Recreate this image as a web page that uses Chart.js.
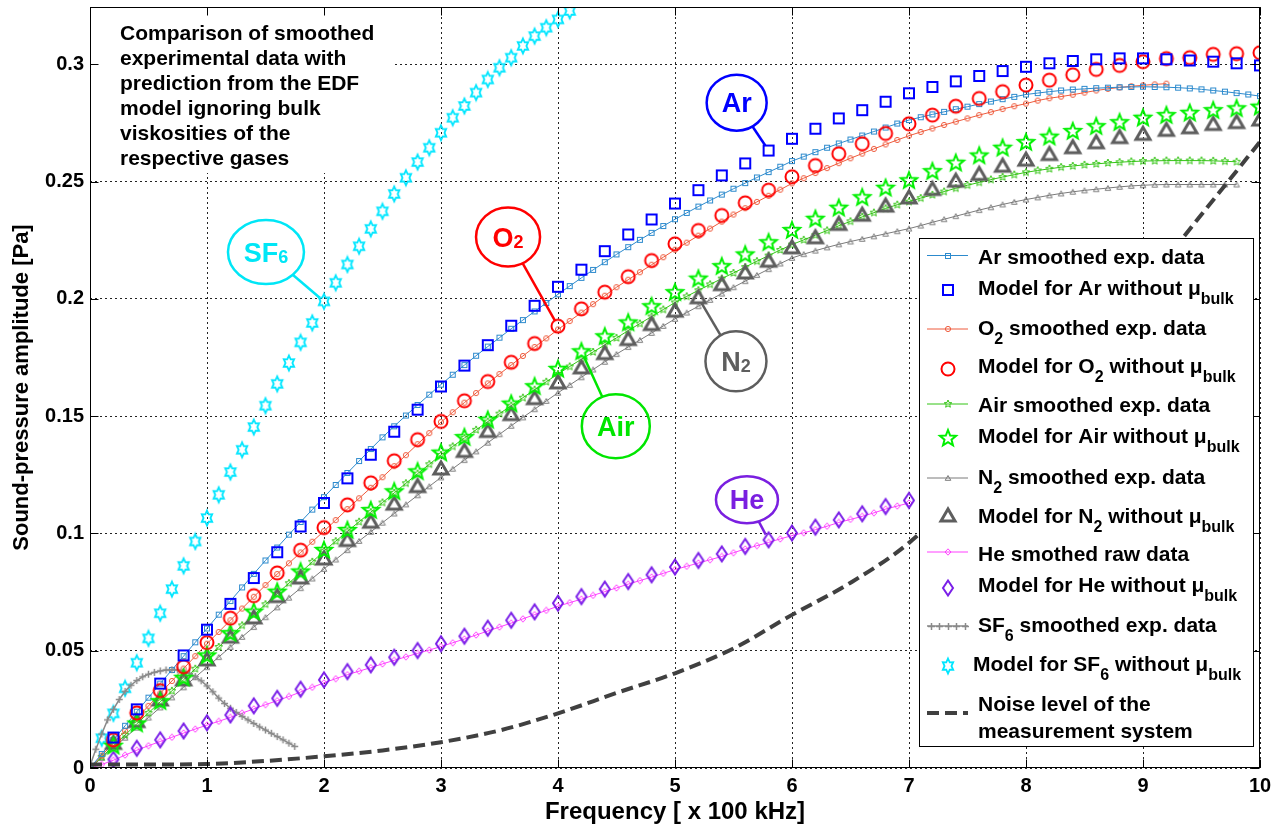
<!DOCTYPE html>
<html>
<head>
<meta charset="utf-8">
<title>Sound-pressure amplitude</title>
<script src="https://cdn.jsdelivr.net/npm/chart.js@4.4.1/dist/chart.umd.min.js"></script>
<style>
  html, body { margin: 0; padding: 0; background: #fff; }
  canvas { display: block; }
</style>
</head>
<body>
<canvas id="soundChart" width="1287" height="828"></canvas>
<script>
// frequency grids [x 100 kHz]
const freqSmooth = [
  0, 0.1, 0.2, 0.3, 0.4, 0.5, 0.6, 0.7, 0.8, 0.9,
  1, 1.1, 1.2, 1.3, 1.4, 1.5, 1.6, 1.7, 1.8, 1.9,
  2, 2.1, 2.2, 2.3, 2.4, 2.5, 2.6, 2.7, 2.8, 2.9,
  3, 3.1, 3.2, 3.3, 3.4, 3.5, 3.6, 3.7, 3.8, 3.9,
  4, 4.1, 4.2, 4.3, 4.4, 4.5, 4.6, 4.7, 4.8, 4.9,
  5, 5.1, 5.2, 5.3, 5.4, 5.5, 5.6, 5.7, 5.8, 5.9,
  6, 6.1, 6.2, 6.3, 6.4, 6.5, 6.6, 6.7, 6.8, 6.9,
  7, 7.1, 7.2, 7.3, 7.4, 7.5, 7.6, 7.7, 7.8, 7.9,
  8, 8.1, 8.2, 8.3, 8.4, 8.5, 8.6, 8.7, 8.8, 8.9,
  9, 9.1, 9.2, 9.3, 9.4, 9.5, 9.6, 9.7, 9.8, 9.9,
  10
];
const freqModel = [
  0.2, 0.4, 0.6, 0.8, 1, 1.2, 1.4, 1.6, 1.8, 2,
  2.2, 2.4, 2.6, 2.8, 3, 3.2, 3.4, 3.6, 3.8, 4,
  4.2, 4.4, 4.6, 4.8, 5, 5.2, 5.4, 5.6, 5.8, 6,
  6.2, 6.4, 6.6, 6.8, 7, 7.2, 7.4, 7.6, 7.8, 8,
  8.2, 8.4, 8.6, 8.8, 9, 9.2, 9.4, 9.6, 9.8, 10
];
const freqSF6Model = [
  0.1, 0.2, 0.3, 0.4, 0.5, 0.6, 0.7, 0.8, 0.9, 1,
  1.1, 1.2, 1.3, 1.4, 1.5, 1.6, 1.7, 1.8, 1.9, 2,
  2.1, 2.2, 2.3, 2.4, 2.5, 2.6, 2.7, 2.8, 2.9, 3,
  3.1, 3.2, 3.3, 3.4, 3.5, 3.6, 3.7, 3.8, 3.9, 4,
  4.1
];
const freqSF6Smooth = [
  0, 0.05, 0.1, 0.15, 0.2, 0.25, 0.3, 0.35, 0.4, 0.45,
  0.5, 0.55, 0.6, 0.65, 0.7, 0.75, 0.8, 0.85, 0.9, 0.95,
  1, 1.05, 1.1, 1.15, 1.2, 1.25, 1.3, 1.35, 1.4, 1.45,
  1.5, 1.55, 1.6, 1.65, 1.7, 1.75
];
const freqNoise = [0, 0.5, 1, 1.5, 2, 2.5, 3, 3.5, 4, 4.5, 5, 5.5, 6, 6.5, 7, 7.5, 8, 8.5, 9, 9.5, 10];

// smoothed experimental data [Pa]
const arSmooth = [
  0, 0.0060, 0.0120, 0.0180, 0.0240, 0.0300, 0.0360, 0.0418, 0.0477, 0.0536,
  0.0595, 0.0654, 0.0712, 0.0770, 0.0828, 0.0885, 0.0940, 0.0995, 0.1049, 0.1102,
  0.1155, 0.1207, 0.1258, 0.1309, 0.1360, 0.1410, 0.1457, 0.1503, 0.1548, 0.1592,
  0.1635, 0.1677, 0.1718, 0.1758, 0.1797, 0.1835, 0.1873, 0.1910, 0.1947, 0.1983,
  0.2020, 0.2055, 0.2090, 0.2124, 0.2157, 0.2190, 0.2221, 0.2252, 0.2282, 0.2311,
  0.2340, 0.2367, 0.2394, 0.2420, 0.2445, 0.2470, 0.2494, 0.2518, 0.2541, 0.2564,
  0.2588, 0.2607, 0.2626, 0.2645, 0.2663, 0.2680, 0.2697, 0.2714, 0.2731, 0.2748,
  0.2763, 0.2775, 0.2787, 0.2798, 0.2809, 0.2820, 0.2831, 0.2842, 0.2852, 0.2862,
  0.2872, 0.2878, 0.2884, 0.2889, 0.2893, 0.2896, 0.2899, 0.2901, 0.2903, 0.2904,
  0.2905, 0.2904, 0.2903, 0.2901, 0.2898, 0.2894, 0.2889, 0.2884, 0.2878, 0.2872,
  0.2865
];
const o2Smooth = [
  0, 0.0053, 0.0106, 0.0159, 0.0212, 0.0265, 0.0318, 0.0371, 0.0424, 0.0477,
  0.0530, 0.0580, 0.0630, 0.0680, 0.0730, 0.0780, 0.0827, 0.0873, 0.0919, 0.0965,
  0.1010, 0.1057, 0.1104, 0.1150, 0.1195, 0.1240, 0.1287, 0.1334, 0.1381, 0.1428,
  0.1475, 0.1517, 0.1558, 0.1599, 0.1640, 0.1680, 0.1718, 0.1757, 0.1795, 0.1832,
  0.1870, 0.1906, 0.1942, 0.1978, 0.2014, 0.2050, 0.2082, 0.2114, 0.2146, 0.2178,
  0.2210, 0.2240, 0.2270, 0.2300, 0.2330, 0.2360, 0.2387, 0.2414, 0.2440, 0.2466,
  0.2493, 0.2515, 0.2537, 0.2558, 0.2579, 0.2600, 0.2620, 0.2640, 0.2659, 0.2678,
  0.2696, 0.2712, 0.2727, 0.2742, 0.2756, 0.2770, 0.2784, 0.2797, 0.2810, 0.2822,
  0.2833, 0.2846, 0.2856, 0.2863, 0.2871, 0.2880, 0.2889, 0.2896, 0.2902, 0.2907,
  0.2911, 0.2915, 0.2918
];
const airSmooth = [
  0, 0.0047, 0.0094, 0.0141, 0.0188, 0.0235, 0.0282, 0.0329, 0.0376, 0.0423,
  0.0470, 0.0516, 0.0562, 0.0608, 0.0653, 0.0698, 0.0743, 0.0788, 0.0833, 0.0879,
  0.0925, 0.0967, 0.1009, 0.1050, 0.1091, 0.1132, 0.1173, 0.1214, 0.1255, 0.1295,
  0.1335, 0.1371, 0.1407, 0.1442, 0.1477, 0.1511, 0.1545, 0.1579, 0.1613, 0.1647,
  0.1680, 0.1712, 0.1743, 0.1774, 0.1804, 0.1834, 0.1865, 0.1895, 0.1925, 0.1955,
  0.1985, 0.2011, 0.2037, 0.2062, 0.2087, 0.2111, 0.2136, 0.2161, 0.2185, 0.2209,
  0.2232, 0.2252, 0.2272, 0.2292, 0.2312, 0.2331, 0.2350, 0.2368, 0.2386, 0.2402,
  0.2415, 0.2430, 0.2444, 0.2458, 0.2472, 0.2485, 0.2497, 0.2509, 0.2520, 0.2530,
  0.2540, 0.2548, 0.2555, 0.2562, 0.2567, 0.2572, 0.2576, 0.2580, 0.2583, 0.2586,
  0.2588, 0.2589, 0.2590, 0.2590, 0.2590, 0.2590, 0.2589, 0.2587, 0.2585
];
const n2Smooth = [
  0, 0.0043, 0.0086, 0.0129, 0.0172, 0.0215, 0.0258, 0.0301, 0.0344, 0.0387,
  0.0430, 0.0473, 0.0516, 0.0559, 0.0601, 0.0643, 0.0685, 0.0726, 0.0767, 0.0808,
  0.0849, 0.0889, 0.0929, 0.0968, 0.1007, 0.1046, 0.1085, 0.1124, 0.1163, 0.1201,
  0.1239, 0.1276, 0.1313, 0.1350, 0.1387, 0.1423, 0.1459, 0.1495, 0.1530, 0.1565,
  0.1600, 0.1633, 0.1666, 0.1699, 0.1732, 0.1765, 0.1795, 0.1825, 0.1855, 0.1885,
  0.1915, 0.1942, 0.1969, 0.1996, 0.2023, 0.2050, 0.2076, 0.2102, 0.2127, 0.2151,
  0.2175, 0.2191, 0.2206, 0.2220, 0.2233, 0.2245, 0.2256, 0.2267, 0.2278, 0.2289,
  0.2300, 0.2313, 0.2327, 0.2340, 0.2353, 0.2366, 0.2379, 0.2391, 0.2403, 0.2414,
  0.2424, 0.2433, 0.2442, 0.2450, 0.2457, 0.2463, 0.2468, 0.2473, 0.2478, 0.2482,
  0.2485, 0.2487, 0.2488, 0.2488, 0.2488, 0.2488, 0.2488, 0.2488, 0.2488
];
const heSmooth = [
  0, 0.0015, 0.0033, 0.0055, 0.0076, 0.0095, 0.0113, 0.0131, 0.0149, 0.0166,
  0.0183, 0.0199, 0.0216, 0.0234, 0.0252, 0.0270, 0.0287, 0.0305, 0.0324, 0.0344,
  0.0363, 0.0381, 0.0398, 0.0413, 0.0428, 0.0444, 0.0459, 0.0474, 0.0489, 0.0503,
  0.0518, 0.0534, 0.0550, 0.0567, 0.0584, 0.0601, 0.0618, 0.0636, 0.0654, 0.0672,
  0.0690, 0.0705, 0.0720, 0.0736, 0.0752, 0.0768, 0.0784, 0.0799, 0.0814, 0.0830,
  0.0846, 0.0860, 0.0874, 0.0888, 0.0902, 0.0918, 0.0934, 0.0948, 0.0962, 0.0977,
  0.0991, 0.1003, 0.1016, 0.1031, 0.1047, 0.1060, 0.1073, 0.1088, 0.1104, 0.1117,
  0.1130
];
const sf6Smooth = [
  0.0010, 0.0080, 0.0145, 0.0205, 0.0250, 0.0292, 0.0327, 0.0353, 0.0373, 0.0389,
  0.0400, 0.0408, 0.0414, 0.0418, 0.0419, 0.0418, 0.0413, 0.0403, 0.0390, 0.0372,
  0.0350, 0.0325, 0.0298, 0.0275, 0.0255, 0.0237, 0.0220, 0.0205, 0.0190, 0.0175,
  0.0162, 0.0148, 0.0134, 0.0120, 0.0106, 0.0092
];

// EDF model without bulk viscosity [Pa]
const arModel = [
  0.0130, 0.0250, 0.0360, 0.0480, 0.0590, 0.0700, 0.0810, 0.0920, 0.1030, 0.1130,
  0.1235, 0.1336, 0.1434, 0.1528, 0.1627, 0.1716, 0.1803, 0.1886, 0.1971, 0.2052,
  0.2125, 0.2204, 0.2275, 0.2339, 0.2407, 0.2464, 0.2527, 0.2578, 0.2633, 0.2683,
  0.2726, 0.2770, 0.2805, 0.2841, 0.2877, 0.2904, 0.2928, 0.2951, 0.2972, 0.2990,
  0.3005, 0.3015, 0.3022, 0.3026, 0.3026, 0.3022, 0.3017, 0.3012, 0.3005, 0.2996
];
const o2Model = [
  0.0120, 0.0235, 0.0330, 0.0432, 0.0535, 0.0639, 0.0735, 0.0832, 0.0929, 0.1025,
  0.1122, 0.1216, 0.1310, 0.1400, 0.1478, 0.1566, 0.1648, 0.1730, 0.1810, 0.1884,
  0.1958, 0.2029, 0.2095, 0.2164, 0.2235, 0.2292, 0.2356, 0.2410, 0.2464, 0.2521,
  0.2569, 0.2619, 0.2662, 0.2706, 0.2747, 0.2784, 0.2822, 0.2855, 0.2884, 0.2912,
  0.2933, 0.2956, 0.2979, 0.2996, 0.3012, 0.3025, 0.3029, 0.3043, 0.3046, 0.3050
];
const airModel = [
  0.0095, 0.0190, 0.0285, 0.0385, 0.0480, 0.0575, 0.0667, 0.0752, 0.0838, 0.0930,
  0.1015, 0.1100, 0.1180, 0.1265, 0.1345, 0.1411, 0.1485, 0.1554, 0.1628, 0.1702,
  0.1777, 0.1841, 0.1900, 0.1969, 0.2029, 0.2087, 0.2140, 0.2190, 0.2242, 0.2294,
  0.2342, 0.2389, 0.2434, 0.2474, 0.2506, 0.2545, 0.2581, 0.2612, 0.2645, 0.2669,
  0.2692, 0.2716, 0.2737, 0.2754, 0.2773, 0.2784, 0.2794, 0.2805, 0.2813, 0.2820
];
const n2Model = [
  0.0105, 0.0198, 0.0290, 0.0376, 0.0461, 0.0558, 0.0640, 0.0731, 0.0810, 0.0891,
  0.0970, 0.1048, 0.1125, 0.1200, 0.1275, 0.1350, 0.1435, 0.1507, 0.1575, 0.1642,
  0.1706, 0.1767, 0.1827, 0.1891, 0.1948, 0.2005, 0.2061, 0.2111, 0.2161, 0.2218,
  0.2261, 0.2318, 0.2357, 0.2396, 0.2431, 0.2467, 0.2502, 0.2531, 0.2566, 0.2592,
  0.2616, 0.2645, 0.2666, 0.2688, 0.2702, 0.2719, 0.2730, 0.2744, 0.2752, 0.2763
];
const heModel = [
  0.0037, 0.0084, 0.0120, 0.0158, 0.0193, 0.0226, 0.0265, 0.0297, 0.0336, 0.0376,
  0.0411, 0.0440, 0.0472, 0.0501, 0.0530, 0.0562, 0.0596, 0.0630, 0.0666, 0.0703,
  0.0731, 0.0763, 0.0795, 0.0824, 0.0857, 0.0885, 0.0913, 0.0945, 0.0973, 0.1002,
  0.1027, 0.1058, 0.1084, 0.1115, 0.1141
];
const sf6Model = [
  0.0127, 0.0233, 0.0340, 0.0449, 0.0553, 0.0660, 0.0763, 0.0862, 0.0966, 0.1066,
  0.1165, 0.1262, 0.1357, 0.1454, 0.1545, 0.1638, 0.1727, 0.1815, 0.1898, 0.1990,
  0.2069, 0.2147, 0.2225, 0.2299, 0.2374, 0.2448, 0.2517, 0.2584, 0.2645, 0.2709,
  0.2773, 0.2823, 0.2880, 0.2936, 0.2986, 0.3029, 0.3079, 0.3121, 0.3157, 0.3192,
  0.3228
];

// noise floor of the measurement system [Pa]
const noiseLevel = [
  0.0015, 0.0015, 0.0017, 0.0030, 0.0050, 0.0075, 0.0110, 0.0160, 0.0233, 0.0320,
  0.0404, 0.0510, 0.0653, 0.0790, 0.0960, 0.1200, 0.1460, 0.1750, 0.2050, 0.2360,
  0.2670
];

const noteLines = [
  'Comparison of smoothed',
  'experimental data with',
  'prediction from the EDF',
  'model ignoring bulk',
  'viskosities of the',
  'respective gases'
];

const FONT = '"Liberation Sans", Arial, Helvetica, sans-serif';

const colors = {
  arLine: '#2C8ACD', arModel: '#0000FF',
  o2Line: '#EE5A3C', o2Model: '#FF0000',
  airLine: '#33C414', airModel: '#00F000',
  n2Line: '#7A7A7A', n2Model: '#5E5E5E',
  heLine: '#FF40FF', heModel: '#7A1FE8',
  sf6Line: '#8A8A8A', sf6Model: '#00E6FF',
  noise: '#404040'
};

// hollow marker glyphs, drawn once into small canvases
function makeMarker(w, h, paint) {
  const c = document.createElement('canvas');
  c.width = w; c.height = h;
  const g = c.getContext('2d');
  paint(g, w / 2, h / 2);
  return c;
}
function tracePolygon(g, pts) {
  g.beginPath();
  pts.forEach(([x, y], i) => (i ? g.lineTo(x, y) : g.moveTo(x, y)));
  g.closePath();
}
function starPoints(cx, cy, n, rOut, rIn, sx) {
  const pts = [];
  for (let i = 0; i < 2 * n; i++) {
    const r = i % 2 ? rIn : rOut;
    const a = -Math.PI / 2 + i * Math.PI / n;
    pts.push([cx + sx * r * Math.cos(a), cy + r * Math.sin(a)]);
  }
  return pts;
}

const markers = {
  arSmall: makeMarker(8, 8, g => {
    g.strokeStyle = colors.arLine; g.lineWidth = 1; g.strokeRect(1.5, 1.5, 5, 5);
  }),
  arBig: makeMarker(16, 16, g => {
    g.strokeStyle = colors.arModel; g.lineWidth = 2; g.strokeRect(3, 3, 10, 10);
  }),
  o2Small: makeMarker(8, 8, (g, cx, cy) => {
    g.strokeStyle = colors.o2Line; g.lineWidth = 1;
    g.beginPath(); g.arc(cx, cy, 2.6, 0, Math.PI * 2); g.stroke();
  }),
  o2Big: makeMarker(18, 18, (g, cx, cy) => {
    g.strokeStyle = colors.o2Model; g.lineWidth = 2;
    g.beginPath(); g.arc(cx, cy, 6.5, 0, Math.PI * 2); g.stroke();
  }),
  airSmall: makeMarker(10, 10, (g, cx, cy) => {
    g.strokeStyle = colors.airLine; g.lineWidth = 1;
    tracePolygon(g, starPoints(cx, cy, 5, 4, 1.8, 1)); g.stroke();
  }),
  airBig: makeMarker(22, 22, (g, cx, cy) => {
    g.strokeStyle = colors.airModel; g.lineWidth = 2;
    tracePolygon(g, starPoints(cx, cy + 0.5, 5, 8.5, 3.7, 1)); g.stroke();
  }),
  n2Small: makeMarker(8, 8, g => {
    g.strokeStyle = colors.n2Line; g.lineWidth = 1;
    tracePolygon(g, [[4, 1.5], [1.2, 6.3], [6.8, 6.3]]); g.stroke();
  }),
  n2Big: makeMarker(22, 22, g => {
    g.strokeStyle = colors.n2Model; g.lineWidth = 3; g.lineJoin = 'miter';
    tracePolygon(g, [[11, 4], [4, 16], [18, 16]]); g.stroke();
  }),
  heSmall: makeMarker(8, 8, g => {
    g.strokeStyle = colors.heLine; g.lineWidth = 1;
    tracePolygon(g, [[4, 0.8], [7, 4], [4, 7.2], [1, 4]]); g.stroke();
  }),
  heBig: makeMarker(16, 20, g => {
    g.strokeStyle = colors.heModel; g.lineWidth = 2;
    tracePolygon(g, [[8, 2.5], [13, 10], [8, 17.5], [3, 10]]); g.stroke();
  }),
  sf6Small: makeMarker(9, 9, g => {
    g.strokeStyle = colors.sf6Line; g.lineWidth = 1.5;
    g.beginPath();
    g.moveTo(4.5, 1); g.lineTo(4.5, 8);
    g.moveTo(1, 4.5); g.lineTo(8, 4.5);
    g.stroke();
  }),
  sf6Big: makeMarker(16, 20, (g, cx, cy) => {
    g.strokeStyle = colors.sf6Model; g.lineWidth = 1.8;
    tracePolygon(g, starPoints(cx, cy, 6, 7.5, 4.3, 0.8)); g.stroke();
  })
};

const toPoints = (xs, ys) => ys.map((y, i) => ({ x: xs[i], y }));

function smoothed(label, xs, ys, color, marker) {
  return {
    label, data: toPoints(xs, ys), borderColor: color, borderWidth: 1,
    pointStyle: marker, pointRadius: 3, order: 3
  };
}
function model(label, xs, ys, marker) {
  return {
    label, data: toPoints(xs, ys), showLine: false,
    pointStyle: marker, pointRadius: 6, order: 2
  };
}

const datasets = [
  smoothed('Ar smoothed exp. data', freqSmooth, arSmooth, colors.arLine, markers.arSmall),
  model('Model for Ar without μ_bulk', freqModel, arModel, markers.arBig),
  smoothed('O_2 smoothed exp. data', freqSmooth, o2Smooth, colors.o2Line, markers.o2Small),
  model('Model for O_2 without μ_bulk', freqModel, o2Model, markers.o2Big),
  smoothed('Air smoothed exp. data', freqSmooth, airSmooth, colors.airLine, markers.airSmall),
  model('Model for Air without μ_bulk', freqModel, airModel, markers.airBig),
  smoothed('N_2 smoothed exp. data', freqSmooth, n2Smooth, colors.n2Line, markers.n2Small),
  model('Model for N_2 without μ_bulk', freqModel, n2Model, markers.n2Big),
  smoothed('He smothed raw data', freqSmooth, heSmooth, colors.heLine, markers.heSmall),
  model('Model for He without μ_bulk', freqModel, heModel, markers.heBig),
  Object.assign(
    smoothed('SF_6 smoothed exp. data', freqSF6Smooth, sf6Smooth, colors.sf6Line, markers.sf6Small),
    { borderWidth: 1.5, order: 2 }
  ),
  model('Model for SF_6 without μ_bulk', freqSF6Model, sf6Model, markers.sf6Big),
  {
    label: 'Noise level of the\nmeasurement system', data: toPoints(freqNoise, noiseLevel),
    borderColor: colors.noise, borderWidth: 4, borderDash: [12, 6],
    cubicInterpolationMode: 'monotone', pointRadius: 0, order: 1
  }
];

// text with "_xyz" parts set as subscripts
function richWidth(ctx, text, mainPx, subPx) {
  let w = 0;
  text.split(/_(\w+)/).forEach((part, i) => {
    ctx.font = `bold ${i % 2 ? subPx : mainPx}px ${FONT}`;
    w += ctx.measureText(part).width;
  });
  return w;
}
function drawRich(ctx, x, y, text, mainPx, subPx, drop) {
  text.split(/_(\w+)/).forEach((part, i) => {
    if (!part) return;
    const sub = i % 2 === 1;
    ctx.font = `bold ${sub ? subPx : mainPx}px ${FONT}`;
    ctx.fillText(part, x, sub ? y + drop : y);
    x += ctx.measureText(part).width;
  });
}

// white note panel in the upper left corner, above the grid
const notePanel = {
  id: 'notePanel',
  beforeDatasetsDraw(chart) {
    const ctx = chart.ctx;
    ctx.save();
    ctx.fillStyle = '#fff';
    ctx.fillRect(chart.chartArea.left + 2, 17, 300, 156);
    ctx.fillStyle = '#000';
    ctx.font = `bold 21px ${FONT}`;
    ctx.textBaseline = 'alphabetic';
    noteLines.forEach((t, i) => ctx.fillText(t, 120, 40 + i * 25));
    ctx.restore();
  }
};

// solid box around the axes with inward ticks on all four sides
const axesBox = {
  id: 'axesBox',
  afterDatasetsDraw(chart) {
    const { ctx, chartArea: a, scales: { x, y } } = chart;
    const L = Math.round(a.left) + 0.5, R = Math.round(a.right) - 0.5;
    const T = Math.round(a.top) + 0.5, B = Math.round(a.bottom) - 0.5;
    ctx.save();
    ctx.strokeStyle = '#000';
    ctx.lineWidth = 1;
    ctx.strokeRect(L, T, R - L, B - T);
    ctx.beginPath();
    x.ticks.forEach(t => {
      const px = Math.round(x.getPixelForValue(t.value)) + 0.5;
      ctx.moveTo(px, B); ctx.lineTo(px, B - 8);
      ctx.moveTo(px, T); ctx.lineTo(px, T + 8);
    });
    y.ticks.forEach(t => {
      const py = Math.round(y.getPixelForValue(t.value)) + 0.5;
      ctx.moveTo(L, py); ctx.lineTo(L + 8, py);
      ctx.moveTo(R, py); ctx.lineTo(R - 8, py);
    });
    ctx.stroke();
    ctx.restore();
  }
};

// gas name bubbles pointing at one model marker of each gas
const callouts = [
  { text: 'Ar', color: '#0000FF', at: [5.527, 0.2837], rx: 30, ry: 28, set: 1, index: 28 },
  { text: 'O_2', color: '#FF0000', at: [3.573, 0.2264], rx: 32, ry: 29.5, set: 3, index: 19 },
  { text: 'SF_6', color: '#00E6F6', at: [1.504, 0.2200], rx: 38, ry: 32, set: 11, index: 19 },
  { text: 'Air', color: '#00E600', at: [4.494, 0.1457], rx: 34, ry: 32, set: 5, index: 20 },
  { text: 'N_2', color: '#5E5E5E', at: [5.521, 0.1734], rx: 30.5, ry: 30, set: 7, index: 25 },
  { text: 'He', color: '#7A1FE0', at: [5.615, 0.1144], rx: 31, ry: 23.5, set: 9, index: 28 }
];
const calloutLabels = {
  id: 'calloutLabels',
  afterDatasetsDraw(chart) {
    const { ctx, scales: { x, y } } = chart;
    ctx.save();
    callouts.forEach(c => {
      const cx = x.getPixelForValue(c.at[0]);
      const cy = y.getPixelForValue(c.at[1]);
      const target = chart.getDatasetMeta(c.set).data[c.index];
      const dx = target.x - cx, dy = target.y - cy;
      const len = Math.hypot(dx, dy);
      const ux = dx / len, uy = dy / len;
      const s = 1 / Math.sqrt((ux / c.rx) ** 2 + (uy / c.ry) ** 2);
      ctx.strokeStyle = c.color;
      ctx.lineWidth = 2.5;
      ctx.beginPath();
      ctx.ellipse(cx, cy, c.rx, c.ry, 0, 0, Math.PI * 2);
      ctx.stroke();
      ctx.beginPath();
      ctx.moveTo(cx + ux * s, cy + uy * s);
      ctx.lineTo(target.x - ux * 6, target.y - uy * 6);
      ctx.stroke();
      ctx.fillStyle = c.color;
      ctx.textBaseline = 'alphabetic';
      const w = richWidth(ctx, c.text, 27, 18);
      drawRich(ctx, cx - w / 2, cy + 9.5, c.text, 27, 18, 1);
    });
    ctx.restore();
  }
};

// legend box with subscripted labels
const legendRows = [
  { sampleY: 255.5, textY: 256 },
  { sampleY: 290, textY: 287 },
  { sampleY: 329, textY: 327 },
  { sampleY: 369, textY: 365 },
  { sampleY: 404, textY: 404 },
  { sampleY: 438, textY: 435 },
  { sampleY: 478, textY: 476 },
  { sampleY: 516, textY: 515 },
  { sampleY: 552, textY: 553 },
  { sampleY: 588, textY: 584 },
  { sampleY: 626, textY: 624, repeat: true },
  { sampleY: 666, textY: 663, textX: 973 },
  { sampleY: 713, textY: 703, lineGap: 27 }
];
const legendBox = {
  id: 'legendBox',
  afterDraw(chart) {
    const ctx = chart.ctx;
    ctx.save();
    ctx.fillStyle = '#fff';
    ctx.fillRect(919.5, 238.5, 334, 508);
    ctx.strokeStyle = '#000';
    ctx.lineWidth = 1;
    ctx.strokeRect(919.5, 238.5, 334, 508);
    chart.data.datasets.forEach((ds, i) => {
      const row = legendRows[i];
      const sy = row.sampleY;
      if (ds.showLine !== false) {
        ctx.strokeStyle = ds.borderColor;
        ctx.lineWidth = ds.borderWidth;
        ctx.setLineDash(ds.borderDash || []);
        ctx.beginPath();
        ctx.moveTo(927, sy);
        ctx.lineTo(968, sy);
        ctx.stroke();
        ctx.setLineDash([]);
      }
      const mk = ds.pointStyle;
      if (mk && typeof mk === 'object') {
        const xs = row.repeat ? [931, 939.5, 948, 956.5, 965] : [948];
        xs.forEach(px => ctx.drawImage(mk, Math.round(px - mk.width / 2), Math.round(sy - mk.height / 2)));
      }
      ctx.fillStyle = '#000';
      ctx.textBaseline = 'alphabetic';
      ds.label.split('\n').forEach((line, k) => {
        drawRich(ctx, row.textX || 978, row.textY + 7.5 + k * (row.lineGap || 0), line, 21, 16, 9);
      });
    });
    ctx.restore();
  }
};

Chart.defaults.font.family = FONT;

new Chart(document.getElementById('soundChart'), {
  type: 'line',
  data: { datasets },
  options: {
    responsive: false,
    animation: false,
    devicePixelRatio: 1,
    layout: { padding: { top: 7, right: 27, left: 0, bottom: 0 } },
    plugins: { legend: { display: false }, tooltip: { enabled: false } },
    elements: { line: { tension: 0 }, point: { backgroundColor: 'rgba(0,0,0,0)' } },
    scales: {
      x: {
        type: 'linear',
        min: 0,
        max: 10,
        ticks: { stepSize: 1, color: '#000', font: { size: 20, weight: 'bold' }, padding: 6, maxRotation: 0 },
        grid: { color: '#222', lineWidth: 1, drawTicks: false },
        border: { display: false, dash: [2, 3] },
        title: {
          display: true, text: 'Frequency [ x 100 kHz]', color: '#000',
          font: { size: 24, weight: 'bold' }, padding: { top: 0, bottom: 1 }
        },
        afterFit: s => { s.height = 60; s.paddingLeft = 0; s.paddingRight = 0; }
      },
      y: {
        min: 0,
        max: 0.3245,
        afterBuildTicks: s => {
          s.ticks = s.ticks.filter(t => Math.abs(t.value / 0.05 - Math.round(t.value / 0.05)) < 1e-6);
        },
        ticks: {
          stepSize: 0.05, color: '#000', font: { size: 20, weight: 'bold' }, padding: 6,
          callback: v => String(Math.round(v * 100) / 100)
        },
        grid: { color: '#222', lineWidth: 1, drawTicks: false },
        border: { display: false, dash: [2, 3] },
        title: {
          display: true, text: 'Sound-pressure amplitude [Pa]', color: '#000',
          font: { size: 22, weight: 'bold' }, padding: { top: 9, bottom: 0 }
        },
        afterFit: s => { s.width = 90; s.paddingTop = 0; s.paddingBottom = 0; }
      }
    }
  },
  plugins: [notePanel, axesBox, calloutLabels, legendBox]
});
</script>
</body>
</html>
